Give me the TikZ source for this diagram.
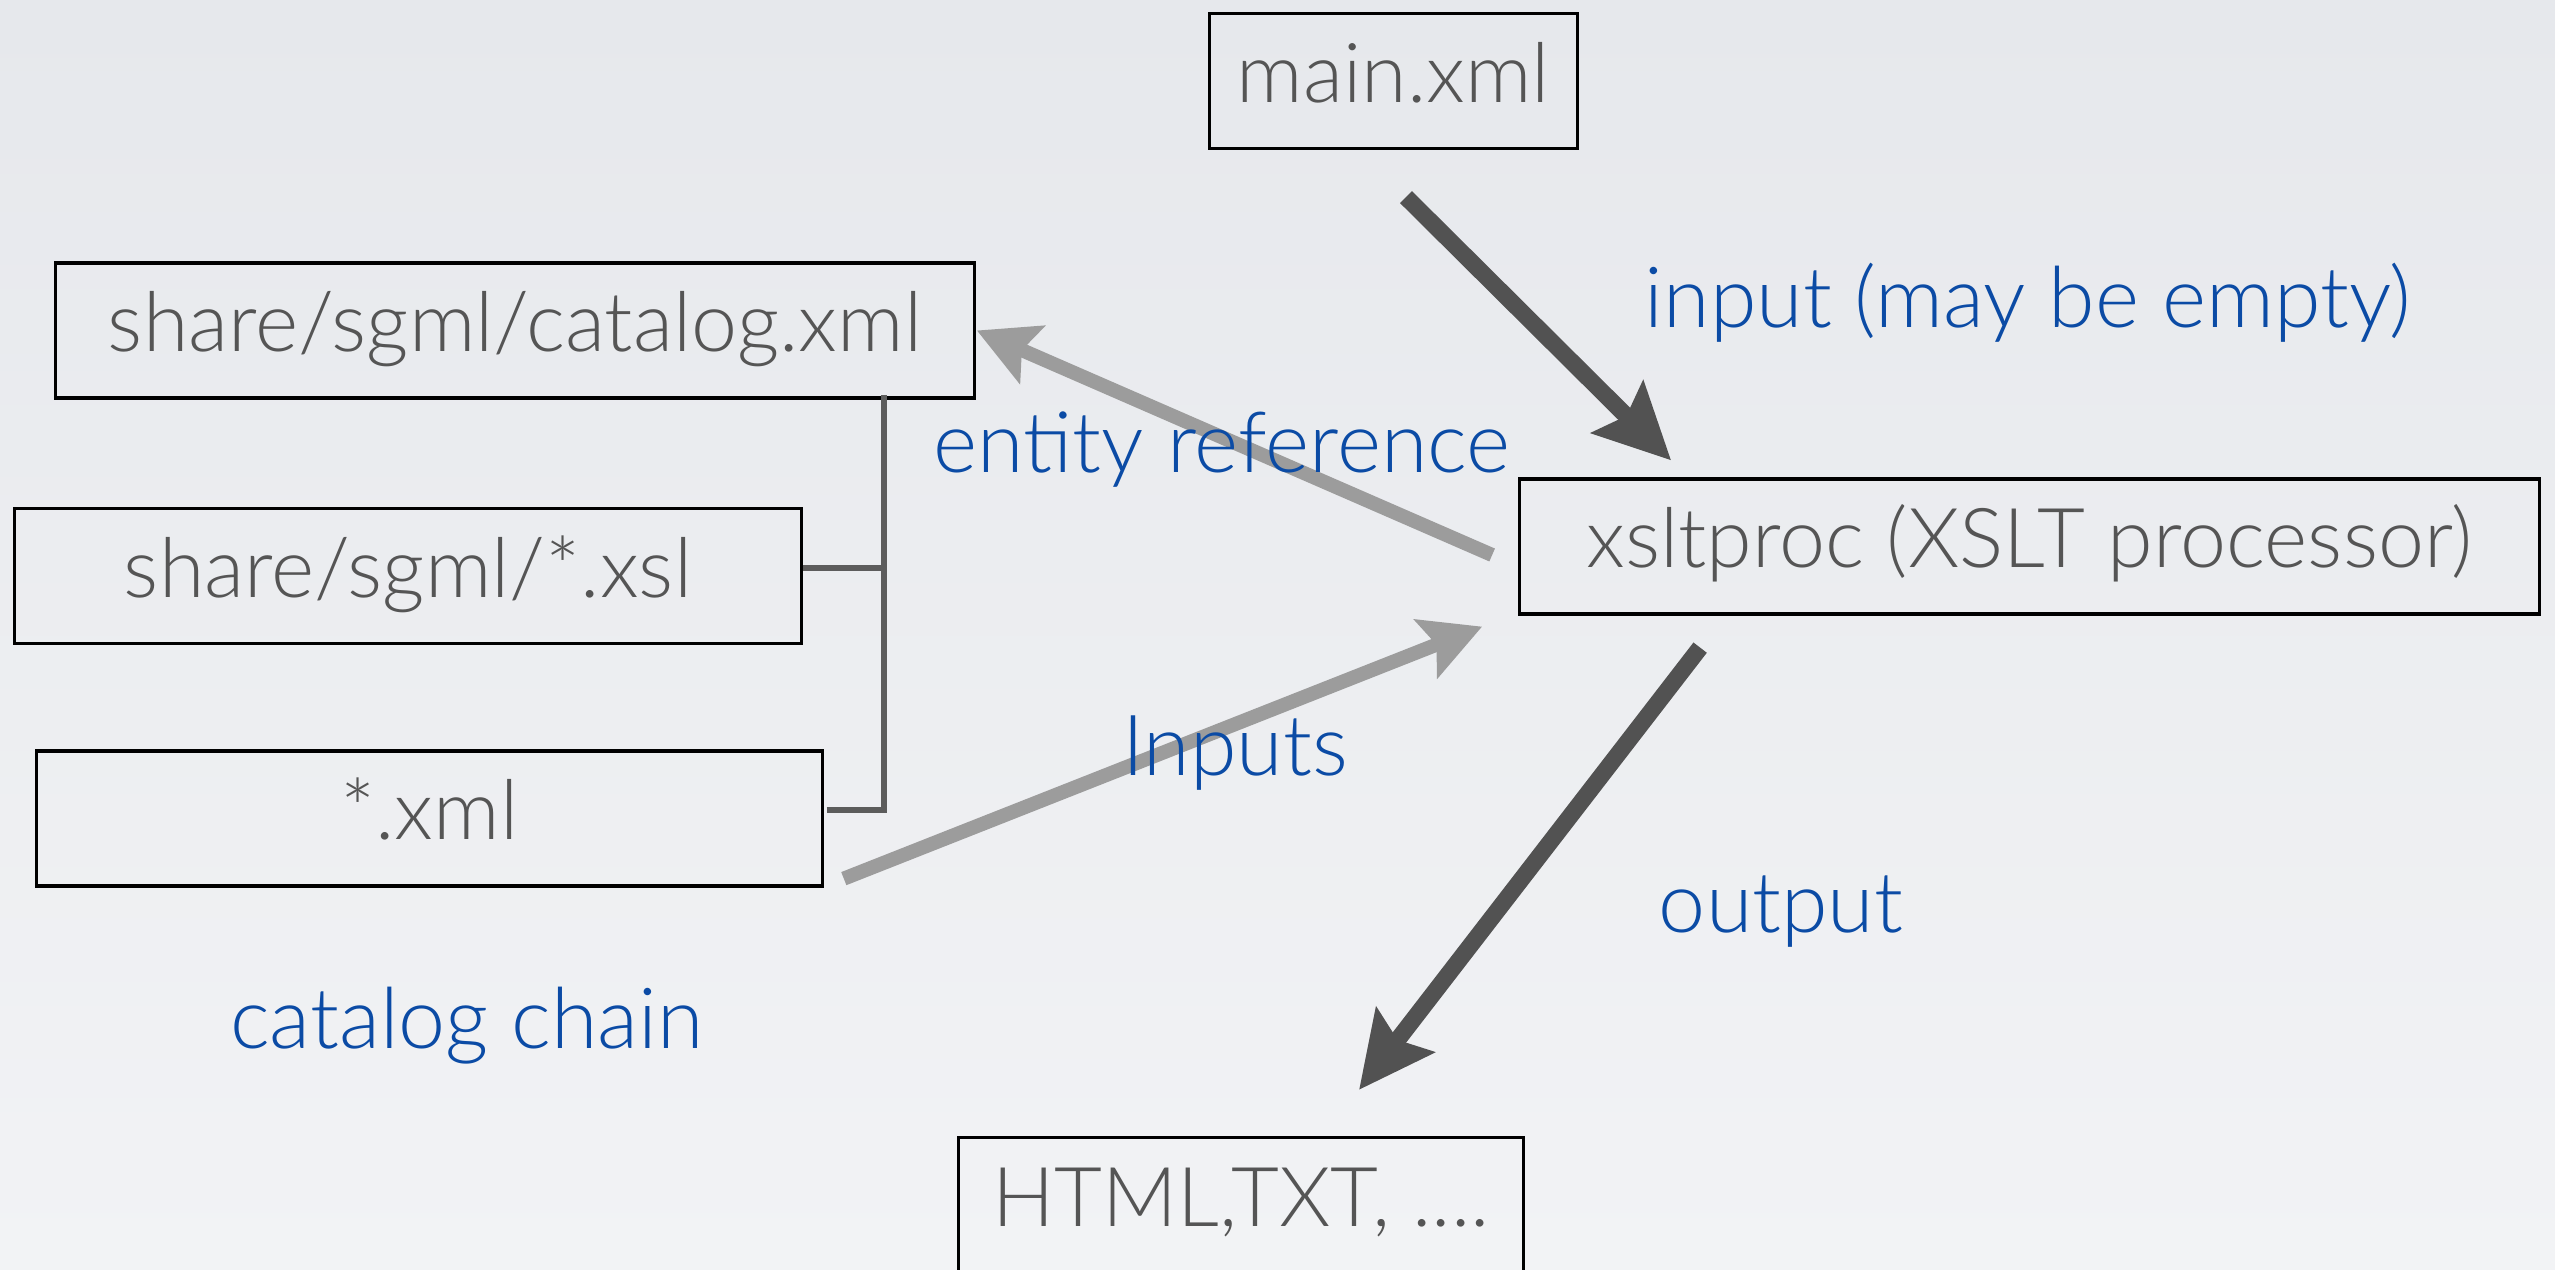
\documentclass[tikz,border=0pt]{standalone}
\usepackage{fontspec}
\setmainfont{Lato}[UprightFont={* Light}]
\usepackage{tikz}
\usetikzlibrary{arrows.meta}
\definecolor{boxtext}{HTML}{555555}
\definecolor{labelblue}{HTML}{0B4BA5}
\definecolor{arrowdark}{HTML}{525252}
\definecolor{arrowlight}{HTML}{9C9C9C}
\definecolor{chaingrey}{HTML}{5C5C5C}
\definecolor{bgtop}{HTML}{E6E8EC}
\definecolor{bgbottom}{HTML}{F2F3F5}

\begin{document}
\begin{tikzpicture}[
  x=0.01cm, y=-0.01cm,
  box/.style={rectangle, draw=black, line width=0.9pt, inner sep=0pt,
              minimum height=1.35cm, text=boxtext, text height=17pt, text depth=5pt,
              font=\fontsize{23.5}{28}\selectfont},
  note/.style={text=labelblue, inner sep=0pt, anchor=base, font=\fontsize{24}{29}\selectfont},
  darkarrow/.style={-{Stealth[length=0.75cm, width=0.72cm, inset=0.12cm]}, line width=4.8pt, draw=arrowdark},
  lightarrow/.style={-{Stealth[length=0.6cm, width=0.62cm, inset=0.11cm]}, line width=4pt, draw=arrowlight},
  chainline/.style={line width=1.5pt, draw=chaingrey}
]
  \shade[top color=bgtop, bottom color=bgbottom] (0,0) rectangle (2555,1270);
  \useasboundingbox (0,0) rectangle (2555,1270);

  % files and tools
  \node[box, minimum width=3.67cm] (mainxml) at (1393.5,81) {main.xml};
  \node[box, minimum width=9.18cm] (catalog) at (515,330.5) {share/sgml/catalog.xml};
  \node[box, minimum width=7.86cm] (xsl) at (408,576) {share/sgml/*.xsl};
  \node[box, minimum width=7.85cm] (anyxml) at (429.5,818.5) {*.xml};
  \node[box, minimum width=10.19cm] (xsltproc) at (2029.5,546.5) {xsltproc (XSLT processor)};
  \node[box, minimum width=5.64cm] (result) at (1241,1205) {HTML,TXT, ....};

  % catalog chain bracket
  \coordinate (chaintop) at ([shift={(-92,-5)}]catalog.south east);
  \coordinate (xslstub) at ([shift={(0,-8)}]xsl.east);
  \draw[chainline] ([shift={(3,-8.5)}]anyxml.east) -| (chaintop);
  \draw[chainline] (xslstub) -- (xslstub -| chaintop);

  % arrows
  \draw[darkarrow] ([shift={(12.5,47)}]mainxml.south) -- ([shift={(153,-17)}]xsltproc.north west);
  \draw[darkarrow] ([shift={(182,32)}]xsltproc.south west) -- ([shift={(118,-46)}]result.north);
  \draw[lightarrow] ([shift={(-26,8.5)}]xsltproc.west) -- ([shift={(1,0)}]catalog.east);
  \draw[lightarrow] ([shift={(20,-9)}]anyxml.south east) -- ([shift={(-36,11)}]xsltproc.south west);

  % labels
  \node[note] (inlabel) at (2028,328) {input (may be empty)};
  \node[note] (entlabel) at (1222,472) {entity reference};
  \node[note] (inputslabel) at (1235,775) {Inputs};
  \node[note] (outlabel) at (1781,932) {output};
  \node[note] (chainlabel) at (467,1048) {catalog chain};
\end{tikzpicture}
\end{document}
